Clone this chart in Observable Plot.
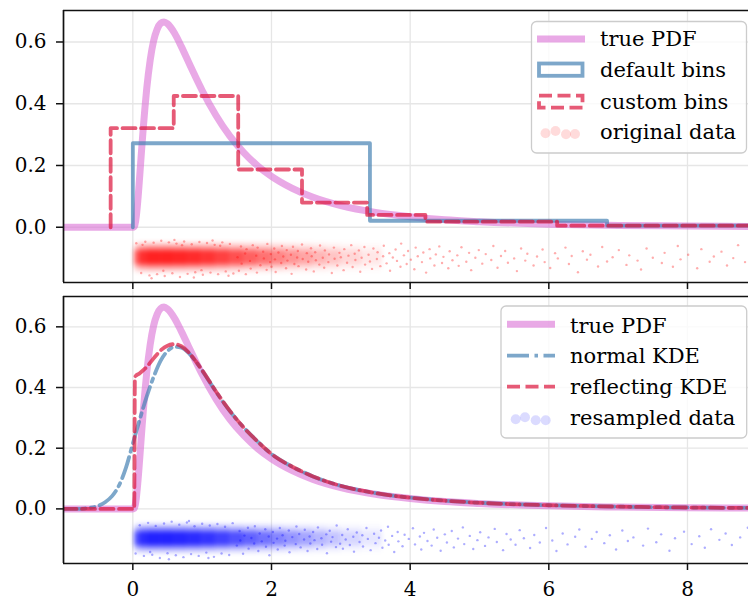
<!DOCTYPE html>
<html><head><meta charset="utf-8">
<script src="https://cdn.jsdelivr.net/npm/d3@7"></script>
<script src="https://cdn.jsdelivr.net/npm/@observablehq/plot@0.6"></script>
<style>
html,body{margin:0;padding:0;background:#fff;overflow:hidden;}
#wrap{position:relative;width:748px;height:601px;font-family:"DejaVu Serif",serif;}
#top{position:absolute;left:0;top:0;}
#bot{position:absolute;left:0;top:292px;}
#leg{position:absolute;left:0;top:0;pointer-events:none;}
</style>
</head><body>
<div id="wrap"><div id="top"></div><div id="bot"></div>
<svg id="leg" width="748" height="601" font-family="DejaVu Serif" font-size="21">
  <rect x="531.5" y="21.5" width="215" height="131.5" rx="5" fill="white" fill-opacity="0.8" stroke="#cccccc" stroke-width="1.3"/>
  <line x1="537" x2="585" y1="39" y2="39" stroke="#da70d6" stroke-opacity="0.6" stroke-width="7"/>
  <rect x="539" y="63.5" width="43.5" height="12.3" fill="none" stroke="#4682b4" stroke-opacity="0.7" stroke-width="3.8"/>
  <rect x="539" y="95.7" width="43.5" height="12" fill="none" stroke="#dc143c" stroke-opacity="0.7" stroke-width="3.8" stroke-dasharray="13,5.5"/>
  <g fill="red" fill-opacity="0.14"><circle cx="545.5" cy="133.3" r="5"/><circle cx="555.5" cy="131" r="5"/><circle cx="566" cy="134.3" r="5"/><circle cx="575" cy="134" r="5"/></g>
  <text x="600" y="45.7">true PDF</text>
  <text x="600" y="77.3">default bins</text>
  <text x="600" y="109">custom bins</text>
  <text x="600" y="139.3">original data</text>

  <rect x="501" y="306" width="245.7" height="132" rx="5" fill="white" fill-opacity="0.8" stroke="#cccccc" stroke-width="1.3"/>
  <line x1="507" x2="555" y1="324.3" y2="324.3" stroke="#da70d6" stroke-opacity="0.6" stroke-width="7"/>
  <line x1="507" x2="555" y1="355.7" y2="355.7" stroke="#4682b4" stroke-opacity="0.7" stroke-width="3.8" stroke-dasharray="22,5.5,3.5,5.5"/>
  <line x1="507" x2="555" y1="386.7" y2="386.7" stroke="#dc143c" stroke-opacity="0.7" stroke-width="3.8" stroke-dasharray="13,5.5"/>
  <g fill="blue" fill-opacity="0.14"><circle cx="515.7" cy="419.3" r="5"/><circle cx="525" cy="417.3" r="5"/><circle cx="535.7" cy="420.3" r="5"/><circle cx="545.7" cy="420.3" r="5"/></g>
  <text x="570" y="332.7">true PDF</text>
  <text x="570" y="363.3">normal KDE</text>
  <text x="570" y="394.3">reflecting KDE</text>
  <text x="570" y="425">resampled data</text>
</svg>
</div>
<script>
// ---- axes ----
const xTicks = [0, 2, 4, 6, 8];
const yTicks = [0, 0.2, 0.4, 0.6];

// ---- true PDF ----
const pdfX = [-1,0,0.02,0.03,0.05,0.07,0.1,0.125,0.15,0.175,0.2,0.25,0.3,0.35,0.4,0.45,0.5,0.6,0.7,0.8,0.9,1.0,1.2,1.4,1.6,1.8,2.0,2.3,2.6,3.0,3.5,4.0,4.5,5.0,6.0,7.0,8.0,9.0];
const pdfY = [0,0,0.002,0.008,0.035,0.081,0.168,0.246,0.320,0.388,0.448,0.541,0.604,0.641,0.660,0.665,0.659,0.629,0.585,0.537,0.489,0.443,0.362,0.295,0.242,0.199,0.165,0.126,0.097,0.070,0.048,0.034,0.024,0.018,0.010,0.006,0.004,0.0025];

// ---- histograms ----
const defaultEdges = [0, 3.42, 6.84, 10.26];
const defaultHeights = [0.272, 0.021, 0.005];
const customEdges = [-0.32, 0.59, 1.52, 2.44, 3.38, 4.22, 6.12, 12];
const customHeights = [0.321, 0.425, 0.187, 0.080, 0.040, 0.018, 0.005];

// ---- KDEs ----
const kdeNX = [-1,-0.8,-0.7,-0.6,-0.5,-0.4,-0.3,-0.2,-0.1,0,0.1,0.2,0.3,0.4,0.5,0.6,0.7,0.8,0.9,1.0,1.2,1.4,1.6,1.8,2.0,2.3,2.6,3.0,3.5,4.0,4.5,5.0,6.0,7.0,8.0,9.0];
const kdeNY = [0,0,0.001,0.004,0.010,0.022,0.042,0.077,0.135,0.215,0.295,0.37,0.435,0.488,0.52,0.534,0.531,0.515,0.488,0.456,0.386,0.322,0.268,0.222,0.181,0.139,0.107,0.076,0.052,0.037,0.027,0.020,0.012,0.0075,0.0045,0.003];
const kdeRX = [-1,0.02,0.03,0.1,0.2,0.3,0.4,0.5,0.6,0.7,0.8,0.9,1.0,1.2,1.4,1.6,1.8,2.0,2.3,2.6,3.0,3.5,4.0,4.5,5.0,6.0,7.0,8.0,9.0];
const kdeRY = [0,0,0.435,0.447,0.468,0.496,0.522,0.538,0.543,0.536,0.517,0.489,0.457,0.387,0.323,0.268,0.222,0.181,0.139,0.107,0.076,0.052,0.037,0.027,0.020,0.012,0.0075,0.0045,0.003];

// ---- dense part of the data strips: intensity per x-bin ----
const bandEdges = [0.03,0.1,0.2,0.4,0.6,0.8,1.0,1.2,1.4,1.6,1.8,2.0,2.2,2.4,2.6,2.8,3.0,3.3,3.6];
const origBand = [0.6,0.88,0.97,0.97,0.94,0.9,0.84,0.76,0.67,0.58,0.5,0.42,0.35,0.29,0.23,0.18,0.12,0.07];
const resampBand = [0.65,0.9,0.97,0.97,0.94,0.9,0.84,0.76,0.67,0.58,0.5,0.42,0.35,0.29,0.23,0.18,0.12,0.07];

// ---- individual sparse points ----
const origPts = [
[0.05,-0.052],[0.12,-0.148],[0.18,-0.047],[0.24,-0.156],[0.3,-0.05],[0.35,-0.152],[0.41,-0.044],[0.46,-0.158],[0.52,-0.049],[0.57,-0.149],[0.63,-0.053],[0.68,-0.161],[0.74,-0.046],[0.79,-0.151],[0.85,-0.055],[0.9,-0.146],[0.96,-0.048],[1.01,-0.154],[1.07,-0.051],[1.12,-0.147],[1.18,-0.057],[1.23,-0.152],[1.29,-0.049],[1.34,-0.143],[1.4,-0.054],[1.45,-0.15],[0.27,-0.165],[0.6,-0.041],[0.88,-0.163],[1.15,-0.043],[0.14,-0.057],[0.44,-0.141],[0.71,-0.058],[0.99,-0.139],[1.26,-0.06],[1.38,-0.157],
[1.51,-0.097],[1.53,-0.141],[1.56,-0.062],[1.57,-0.118],[1.62,-0.085],[1.63,-0.152],[1.64,-0.071],[1.69,-0.109],[1.7,-0.134],[1.73,-0.058],[1.78,-0.092],[1.79,-0.147],[1.8,-0.066],[1.84,-0.123],[1.88,-0.079],[1.89,-0.101],[1.93,-0.138],[1.94,-0.054],[1.98,-0.113],[1.99,-0.087],
[2.0,-0.128],[2.04,-0.069],[2.05,-0.104],[2.06,-0.145],[2.1,-0.082],[2.14,-0.116],[2.15,-0.061],[2.17,-0.095],[2.21,-0.133],[2.22,-0.074],[2.23,-0.108],[2.28,-0.089],[2.29,-0.151],[2.31,-0.063],[2.33,-0.119],[2.37,-0.098],[2.38,-0.077],[2.39,-0.126],[2.44,-0.056],[2.45,-0.103],[2.5,-0.137],[2.51,-0.084],[2.53,-0.112],[2.57,-0.068],[2.58,-0.094],[2.61,-0.143],[2.63,-0.081],[2.64,-0.107],[2.69,-0.121],[2.7,-0.059],[2.74,-0.099],[2.76,-0.131],[2.77,-0.075],[2.82,-0.113],[2.83,-0.088],[2.87,-0.148],[2.9,-0.066],[2.91,-0.102],[2.95,-0.124],[2.98,-0.083],
[3.0,-0.097],[3.04,-0.139],[3.05,-0.071],[3.09,-0.115],[3.11,-0.092],[3.15,-0.058],[3.17,-0.129],[3.2,-0.086],[3.21,-0.106],[3.26,-0.075],[3.28,-0.144],[3.3,-0.099],[3.34,-0.064],[3.35,-0.121],[3.4,-0.089],[3.42,-0.111],[3.45,-0.135],[3.47,-0.069],[3.52,-0.103],[3.53,-0.081],[3.57,-0.126],[3.61,-0.094],[3.62,-0.06],[3.66,-0.117],[3.7,-0.084],[3.71,-0.141],[3.75,-0.098],[3.79,-0.072],[3.81,-0.109],[3.86,-0.128],[3.87,-0.053],[3.91,-0.091],[3.95,-0.119],[3.97,-0.077],
[4.01,-0.105],[4.06,-0.136],[4.08,-0.066],[4.11,-0.094],[4.17,-0.113],[4.19,-0.082],[4.23,-0.147],[4.28,-0.071],[4.29,-0.101],[4.35,-0.124],[4.37,-0.088],[4.42,-0.062],[4.46,-0.116],[4.48,-0.096],[4.55,-0.133],[4.57,-0.078],[4.61,-0.107],[4.68,-0.091],[4.7,-0.125],[4.74,-0.065],[4.81,-0.112],[4.85,-0.083],[4.88,-0.139],[4.94,-0.099],[4.99,-0.074],
[5.04,-0.118],[5.09,-0.087],[5.17,-0.106],[5.2,-0.061],[5.26,-0.131],[5.31,-0.093],[5.37,-0.077],[5.41,-0.115],[5.5,-0.101],[5.54,-0.142],[5.6,-0.069],[5.66,-0.108],[5.69,-0.086],[5.78,-0.124],[5.83,-0.095],[5.91,-0.072],[5.94,-0.113],
[6.02,-0.132],[6.09,-0.084],[6.13,-0.101],[6.24,-0.066],[6.29,-0.119],[6.33,-0.093],[6.42,-0.146],[6.49,-0.078],[6.55,-0.105],[6.6,-0.089],[6.71,-0.127],[6.77,-0.064],[6.84,-0.111],[6.92,-0.097],
[7.01,-0.074],[7.12,-0.122],[7.16,-0.091],[7.28,-0.108],[7.33,-0.137],[7.41,-0.069],[7.5,-0.099],[7.63,-0.116],[7.67,-0.083],[7.79,-0.128],[7.86,-0.061],[7.9,-0.104],
[8.01,-0.089],[8.14,-0.133],[8.2,-0.071],[8.32,-0.112],[8.38,-0.095],[8.49,-0.079],[8.57,-0.124],[8.66,-0.1],[8.73,-0.058],[8.83,-0.113]
];
const resampPts = [
[0.04,-0.147],[0.1,-0.054],[0.16,-0.155],[0.22,-0.046],[0.28,-0.151],[0.33,-0.056],[0.39,-0.162],[0.45,-0.048],[0.5,-0.146],[0.56,-0.042],[0.62,-0.153],[0.67,-0.052],[0.73,-0.159],[0.78,-0.045],[0.84,-0.149],[0.89,-0.057],[0.95,-0.155],[1.0,-0.049],[1.06,-0.144],[1.11,-0.055],[1.17,-0.158],[1.22,-0.05],[1.28,-0.147],[1.33,-0.059],[1.39,-0.152],[1.44,-0.047],[0.52,-0.166],[0.81,-0.04],[1.09,-0.162],[0.25,-0.142],
[1.5,-0.121],[1.54,-0.073],[1.55,-0.104],[1.59,-0.148],[1.61,-0.088],[1.66,-0.062],[1.67,-0.131],[1.71,-0.096],[1.75,-0.114],[1.76,-0.057],[1.81,-0.139],[1.83,-0.081],[1.86,-0.107],[1.91,-0.067],[1.92,-0.125],[1.96,-0.091],[1.97,-0.153],
[2.02,-0.076],[2.03,-0.112],[2.08,-0.098],[2.09,-0.134],[2.12,-0.063],[2.16,-0.087],[2.19,-0.121],[2.2,-0.105],[2.25,-0.071],[2.26,-0.143],[2.3,-0.093],[2.35,-0.116],[2.36,-0.058],[2.4,-0.083],[2.42,-0.127],[2.47,-0.101],[2.48,-0.069],[2.52,-0.139],[2.55,-0.091],[2.56,-0.114],[2.6,-0.076],[2.62,-0.103],[2.66,-0.132],[2.67,-0.061],[2.72,-0.097],[2.73,-0.118],[2.79,-0.084],[2.8,-0.146],[2.84,-0.072],[2.86,-0.108],[2.88,-0.093],[2.93,-0.126],[2.94,-0.055],[2.99,-0.115],
[3.02,-0.086],[3.03,-0.131],[3.07,-0.101],[3.1,-0.067],[3.13,-0.119],[3.18,-0.092],[3.19,-0.141],[3.23,-0.078],[3.27,-0.109],[3.31,-0.087],[3.32,-0.124],[3.37,-0.063],[3.39,-0.099],[3.43,-0.136],[3.48,-0.082],[3.5,-0.113],[3.55,-0.095],[3.58,-0.071],[3.6,-0.128],[3.64,-0.104],[3.68,-0.059],[3.69,-0.118],[3.74,-0.089],[3.77,-0.142],[3.82,-0.076],[3.83,-0.107],[3.89,-0.123],[3.92,-0.085],[3.98,-0.099],
[4.04,-0.064],[4.07,-0.117],[4.14,-0.091],[4.16,-0.134],[4.2,-0.079],[4.25,-0.106],[4.31,-0.121],[4.34,-0.068],[4.39,-0.095],[4.44,-0.138],[4.5,-0.084],[4.53,-0.111],[4.6,-0.073],[4.63,-0.127],[4.69,-0.098],[4.76,-0.061],[4.78,-0.116],[4.86,-0.089],[4.91,-0.132],[4.97,-0.103],
[5.01,-0.077],[5.08,-0.122],[5.13,-0.094],[5.22,-0.066],[5.25,-0.109],[5.34,-0.136],[5.39,-0.083],[5.45,-0.101],[5.52,-0.118],[5.58,-0.07],[5.64,-0.097],[5.73,-0.129],[5.79,-0.086],[5.87,-0.111],[5.96,-0.063],
[6.05,-0.104],[6.11,-0.139],[6.2,-0.081],[6.27,-0.117],[6.38,-0.092],[6.44,-0.068],[6.53,-0.125],[6.62,-0.099],[6.69,-0.076],[6.8,-0.113],[6.88,-0.087],[6.97,-0.134],
[7.06,-0.071],[7.14,-0.106],[7.22,-0.094],[7.36,-0.121],[7.43,-0.065],[7.55,-0.11],[7.62,-0.084],[7.74,-0.138],[7.82,-0.097],[7.95,-0.075],
[8.06,-0.116],[8.17,-0.09],[8.25,-0.128],[8.34,-0.067],[8.46,-0.102],[8.55,-0.081],[8.64,-0.119],[8.76,-0.094],[8.87,-0.062]
];

// ---- helpers ----
const zip = (xs, ys) => xs.map((x, i) => ({x, y: ys[i]}));
function stepOutline(edges, heights) {
  const pts = [{x: edges[0], y: 0}];
  heights.forEach((h, i) => { pts.push({x: edges[i], y: h}, {x: edges[i + 1], y: h}); });
  pts.push({x: edges[edges.length - 1], y: 0});
  return pts;
}
function bandMarks(intens, color) {
  const bins = intens.map((o, i) => ({x1: bandEdges[i], x2: bandEdges[i + 1], o}));
  const layers = [[-0.147, -0.05, 0.2], [-0.133, -0.063, 0.4], [-0.12, -0.077, 0.75]];
  return layers.map(([a, b, k]) => Plot.rect(bins, {x1: "x1", x2: "x2", y1: a, y2: b, fill: color, fillOpacity: d => d.o * k, imageFilter: "blur(2.2px)"}));
}

const X_DOMAIN = [-1, 8.88];
const PINK = "#da70d6", BLUE = "#4682b4", CRIMSON = "#dc143c";
const GRID = "#e6e6e6";

function panel({height, marginTop, marginBottom, yDomain, gridY2, gridY1, marks, xLabels}) {
  return Plot.plot({
    width: 748, height, marginLeft: 63, marginRight: 0, marginTop, marginBottom,
    style: {fontFamily: "DejaVu Serif", fontSize: "20px", color: "black", background: "transparent", overflow: "visible"},
    x: {domain: X_DOMAIN},
    y: {domain: yDomain},
    opacity: {type: "identity"},
    marks: [
      Plot.ruleX(xTicks, {y1: gridY1, y2: gridY2, stroke: GRID, strokeWidth: 1.3}),
      Plot.gridY(yTicks, {stroke: GRID, strokeOpacity: 1, strokeWidth: 1.3}),
      ...marks,
      Plot.ruleX([X_DOMAIN[0]], {stroke: "#111", strokeWidth: 1.7}),
      Plot.ruleY(yDomain, {stroke: "#111", strokeWidth: 1.7}),
      Plot.axisY(yTicks, {tickSize: 7, tickPadding: 10, tickFormat: d3.format(".1f"), label: null, stroke: "#111", strokeWidth: 1.5, fill: "black", fontSize: 20}),
      Plot.axisX(xTicks, {tickSize: 7, tickPadding: 11, tickFormat: xLabels ? d3.format("d") : () => "", label: null, stroke: "#111", strokeWidth: 1.5, fill: "black", fontSize: 20})
    ]
  });
}

const topMarks = [
  ...bandMarks(origBand, "red"),
  Plot.dot(origPts, {x: d => d[0], y: d => d[1], r: 1.2, fill: "red", fillOpacity: 0.32, stroke: "none"}),
  Plot.line(zip(pdfX, pdfY), {x: "x", y: "y", stroke: PINK, strokeOpacity: 0.6, strokeWidth: 7, curve: "monotone-x", clip: true}),
  Plot.line(stepOutline(defaultEdges, defaultHeights), {x: "x", y: "y", stroke: BLUE, strokeOpacity: 0.7, strokeWidth: 3.8, clip: true}),
  Plot.line(stepOutline(customEdges, customHeights), {x: "x", y: "y", stroke: CRIMSON, strokeOpacity: 0.7, strokeWidth: 3.8, strokeDasharray: "13,5.5", clip: true})
];
const botMarks = [
  ...bandMarks(resampBand, "blue"),
  Plot.dot(resampPts, {x: d => d[0], y: d => d[1], r: 1.2, fill: "blue", fillOpacity: 0.32, stroke: "none"}),
  Plot.line(zip(pdfX, pdfY), {x: "x", y: "y", stroke: PINK, strokeOpacity: 0.6, strokeWidth: 7, curve: "monotone-x", clip: true}),
  Plot.line(zip(kdeNX, kdeNY), {x: "x", y: "y", stroke: BLUE, strokeOpacity: 0.7, strokeWidth: 3.8, strokeDasharray: "22,5.5,3.5,5.5", curve: "monotone-x", clip: true}),
  Plot.line(zip(kdeRX, kdeRY), {x: "x", y: "y", stroke: CRIMSON, strokeOpacity: 0.7, strokeWidth: 3.8, strokeDasharray: "13,5.5", curve: "monotone-x", clip: true})
];

document.getElementById("top").append(panel({height: 292, marginTop: 10, marginBottom: 10, yDomain: [-0.179, 0.702], gridY1: 0.702, gridY2: -0.215, marks: topMarks, xLabels: false}));
document.getElementById("bot").append(panel({height: 309, marginTop: 4, marginBottom: 38, yDomain: [-0.180, 0.700], gridY1: 0.713, gridY2: -0.180, marks: botMarks, xLabels: true}));
</script>
</body></html>
